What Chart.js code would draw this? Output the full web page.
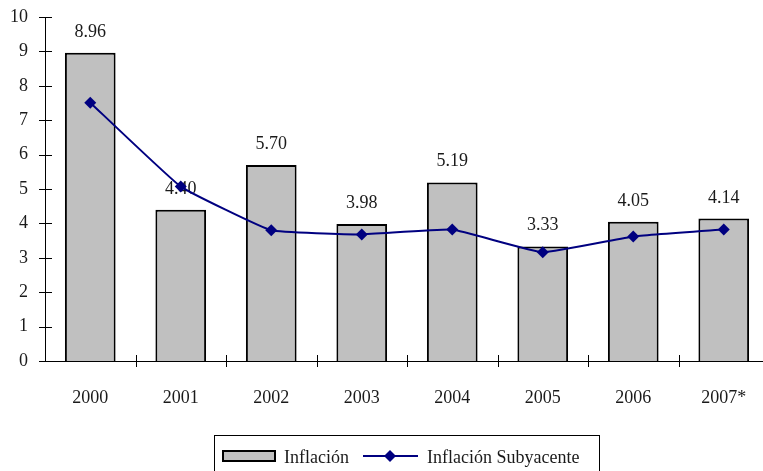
<!DOCTYPE html>
<html>
<head>
<meta charset="utf-8">
<script src="https://cdn.jsdelivr.net/npm/chart.js@4"></script>
<style>
  html, body { margin: 0; padding: 0; background: #fff; overflow: hidden; }
  #wrap { width: 763px; height: 471px; overflow: hidden; }
</style>
</head>
<body>
<div id="wrap"><canvas id="grafico" width="775" height="471"></canvas></div>
<script>
// Datos del gráfico
const anios = ['2000', '2001', '2002', '2003', '2004', '2005', '2006', '2007*'];
const inflacion = [8.96, 4.40, 5.70, 3.98, 5.19, 3.33, 4.05, 4.14];
const subyacente = [7.51, 5.07, 3.80, 3.68, 3.82, 3.16, 3.62, 3.82];
const ejeYmin = 0, ejeYmax = 10, ejeYpaso = 1;

const fuente = '"Liberation Serif", "DejaVu Serif", serif';
const colorTexto = '#1a1a1a';

// Marcas de eje (cruzan el eje) + etiquetas sobre las barras
const extras = {
    id: 'extras',
    beforeInit(chart) {
        chart.ctx.letterSpacing = '0.5px';
    },
    afterDatasetDraw(chart, args) {
        if (args.index !== 0) return;
        const ctx = chart.ctx;
        ctx.save();
        ctx.font = '18px ' + fuente;
        ctx.fillStyle = colorTexto;
        ctx.textAlign = 'center';
        ctx.textBaseline = 'alphabetic';
        chart.getDatasetMeta(0).data.forEach((bar, i) => {
            ctx.fillText(inflacion[i].toFixed(2), bar.x, bar.y - 16);
        });
        ctx.restore();
    },
    afterDraw(chart) {
        const ctx = chart.ctx;
        const x = chart.scales.x, y = chart.scales.y;
        ctx.save();
        ctx.strokeStyle = '#000';
        ctx.lineWidth = 1;
        ctx.beginPath();
        // marcas eje Y
        for (let v = ejeYmin; v <= ejeYmax; v += ejeYpaso) {
            const py = Math.round(y.getPixelForValue(v)) + 0.5;
            ctx.moveTo(x.left - 6, py);
            ctx.lineTo(x.left + 7, py);
        }
        // marcas eje X en los límites de categoría
        const ancho = (x.right - x.left) / anios.length;
        for (let i = 1; i <= anios.length; i++) {
            const px = Math.round(x.left + i * ancho) + 0.5;
            ctx.moveTo(px, y.bottom - 6);
            ctx.lineTo(px, y.bottom + 6);
        }
        ctx.stroke();

        // Leyenda con marco
        ctx.lineWidth = 1;
        ctx.strokeRect(214.5, 435.5, 385, 50);
        ctx.fillStyle = '#c0c0c0';
        ctx.fillRect(223, 451, 52, 10);
        ctx.lineWidth = 2;
        ctx.strokeRect(223, 451, 52, 10);
        ctx.strokeStyle = '#000080';
        ctx.beginPath();
        ctx.moveTo(363, 456);
        ctx.lineTo(418, 456);
        ctx.stroke();
        ctx.fillStyle = '#000080';
        ctx.beginPath();
        ctx.moveTo(390, 450);
        ctx.lineTo(396, 456);
        ctx.lineTo(390, 462);
        ctx.lineTo(384, 456);
        ctx.closePath();
        ctx.fill();
        ctx.font = '18px ' + fuente;
        ctx.fillStyle = colorTexto;
        ctx.textAlign = 'left';
        ctx.textBaseline = 'alphabetic';
        ctx.fillText(chart.data.datasets[0].label, 284, 463);
        ctx.fillText(chart.data.datasets[1].label, 427, 463);
        ctx.restore();
    }
};

new Chart(document.getElementById('grafico').getContext('2d'), {
    type: 'bar',
    data: {
        labels: anios,
        datasets: [
            {
                label: 'Inflación',
                data: inflacion,
                backgroundColor: '#c0c0c0',
                borderColor: '#000',
                borderWidth: 2,
                barPercentage: 0.56,
                categoryPercentage: 1,
                order: 1
            },
            {
                type: 'line',
                label: 'Inflación Subyacente',
                data: subyacente,
                borderColor: '#000080',
                backgroundColor: '#000080',
                borderWidth: 2,
                pointStyle: 'rectRot',
                pointRadius: 6,
                pointBorderWidth: 0,
                tension: 0.1,
                order: 0
            }
        ]
    },
    options: {
        responsive: false,
        animation: false,
        layout: { padding: { top: 17, right: 4, left: 0, bottom: 0 } },
        plugins: {
            legend: { display: false },
            tooltip: { enabled: false }
        },
        scales: {
            x: {
                grid: { display: false, drawTicks: false },
                border: { display: true, color: '#000', width: 1 },
                ticks: { color: colorTexto, font: { family: fuente, size: 18 }, padding: 26 },
                afterFit(scale) { scale.height = 110; }
            },
            y: {
                min: ejeYmin,
                max: ejeYmax,
                grid: { display: false, drawTicks: false },
                border: { display: true, color: '#000', width: 1 },
                ticks: { stepSize: ejeYpaso, color: colorTexto, font: { family: fuente, size: 18 }, padding: 17 },
                afterFit(scale) {
                    scale.width = 45;
                    scale.paddingTop = 0;
                    scale.paddingBottom = 0;
                }
            }
        }
    },
    plugins: [extras]
});
</script>
</body>
</html>
